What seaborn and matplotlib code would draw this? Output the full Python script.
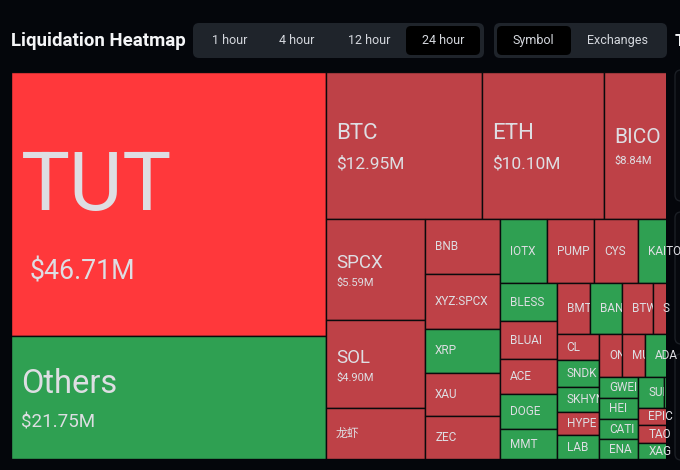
## liquidation heatmap, 24 hour view (treemap made of bars, values in $M) ##
import matplotlib
matplotlib.use('Agg')
import matplotlib.pyplot as plt
from matplotlib.patches import FancyBboxPatch
import seaborn as sns

tickers = ['TUT', 'Others', 'BTC', 'ETH', 'BICO', 'SPCX', 'SOL', '龙虾',
           'BNB', 'XYZ:SPCX', 'XRP', 'XAU', 'ZEC',
           'IOTX', 'PUMP', 'CYS', 'KAITO',
           'BLESS', 'BLUAI', 'ACE', 'DOGE', 'MMT',
           'BMT', 'BANANA', 'BTW', 'S',
           'CL', 'SNDK', 'SKHYNIX', 'HYPE', 'LAB',
           'ONDO', 'MU', 'ADA',
           'GWEI', 'HEI', 'CATI', 'ENA',
           'SUI', '', 'EPIC', 'TAO', 'XAG']
amounts = [46.71, 21.75, 12.95, 10.10, 8.84, 5.59, 4.90, 2.83,
           2.31, 2.31, 1.85, 1.81, 1.81,
           1.69, 1.69, 1.58, 2.61,
           1.20, 1.20, 1.11, 1.11, 0.95,
           0.96, 0.93, 0.87, 1.68,
           0.61, 0.66, 0.60, 0.55, 0.57,
           0.53, 0.54, 1.57,
           0.47, 0.46, 0.44, 0.43,
           0.46, 0.83, 0.69, 0.72, 0.65]
# g = green tile, r = red tile, R = the biggest one, brighter
sides = ['R', 'g', 'r', 'r', 'r', 'r', 'r', 'r',
         'r', 'r', 'g', 'r', 'r',
         'g', 'r', 'r', 'g',
         'g', 'r', 'r', 'g', 'g',
         'r', 'g', 'r', 'r',
         'r', 'g', 'g', 'r', 'g',
         'r', 'r', 'g',
         'g', 'g', 'g', 'g',
         'g', 'g', 'r', 'r', 'g']
time_labels = ['1 hour', '4 hour', '12 hour', '24 hour']
view_labels = ['Symbol', 'Exchanges']

value = dict(zip(tickers, amounts))
side = dict(zip(tickers, sides))

# how the tiles nest, h = split sideways, v = split downwards. built from the inside out
n = ('h', [('v', ['GWEI', 'HEI', 'CATI', 'ENA']),
           ('v', [('h', ['SUI', '']), 'EPIC', 'TAO', 'XAG'])])
n = ('v', [('h', ['ONDO', 'MU', 'ADA']), n])
n = ('h', [('v', ['CL', 'SNDK', 'SKHYNIX', 'HYPE', 'LAB']), n])
n = ('v', [('h', ['BMT', 'BANANA', 'BTW', 'S']), n])
n = ('h', [('v', ['BLESS', 'BLUAI', 'ACE', 'DOGE', 'MMT']), n])
n = ('v', [('h', ['IOTX', 'PUMP', 'CYS', 'KAITO']), n])
n = ('h', [('v', ['SPCX', 'SOL', '龙虾']), ('v', ['BNB', 'XYZ:SPCX', 'XRP', 'XAU', 'ZEC']), n])
n = ('v', [('h', ['BTC', 'ETH', 'BICO']), n])
nesting = ('h', [('v', ['TUT', 'Others']), n])


def total(node):
    if isinstance(node, str):
        return value[node]
    return sum(total(c) for c in node[1])


def slice_up(node, x, y, w, h, out):
    if isinstance(node, str):
        out.append((node, x, y, w, h))
        return
    s = total(node)
    for c in node[1]:
        part = total(c) / s
        if node[0] == 'h':
            slice_up(c, x, y, w * part, h, out)
            x += w * part
        else:
            slice_up(c, x, y, w, h * part, out)
            y += h * part


sns.set_theme(style='dark', rc={'axes.facecolor': '#04060b', 'figure.facecolor': '#04060b'})
plt.rcParams['font.family'] = ['Roboto', 'Noto Sans CJK SC', 'DejaVu Sans']

fig = plt.figure(figsize=(6.8, 4.7), dpi=100)

# header sits on a full size axes counted in pixels
head = fig.add_axes([0, 0, 1, 1])
head.set_xlim(0, 680)
head.set_ylim(470, 0)
head.axis('off')


def pill(x0, y0, x1, y1, color, edge='none', r=6):
    head.add_patch(FancyBboxPatch((x0 + r, y0 + r), x1 - x0 - 2 * r, y1 - y0 - 2 * r,
                                  boxstyle='round,pad=%d,rounding_size=%d' % (r, r),
                                  facecolor=color, edgecolor=edge, linewidth=1))


head.text(11, 41.5, 'Liquidation Heatmap', color='#f4f5f7', fontsize=13.4, fontweight='bold', va='center')
pill(193, 23, 484, 58, '#1f242b')
pill(406, 26, 480, 55, '#000000', r=5)
for lab, cx in zip(time_labels, [230, 297, 369, 443]):
    head.text(cx, 40.5, lab, color='#d5d8de', fontsize=9, ha='center', va='center')
pill(494, 23, 667, 58, '#1f242b')
pill(497, 26, 571, 55, '#000000', r=5)
for lab, cx in zip(view_labels, [533, 617]):
    head.text(cx, 40.5, lab, color='#d5d8de', fontsize=9, ha='center', va='center')
head.text(675, 41.5, 'T', color='#f4f5f7', fontsize=12.2, fontweight='bold', va='center', clip_on=True)
# side panels, mostly off the picture
for y0, y1 in [(70, 201), (212, 344), (354, 460)]:
    pill(675, y0, 700, y1, '#06080d', edge='#1b1f25')

# the treemap runs on past the right edge of the panel and gets cut off
ax = fig.add_axes([12 / 680, 1 - 459 / 470, 654 / 680, 387 / 470])
tiles = []
slice_up(nesting, 0, 0, 700, 388, tiles)

colors = {'R': '#ff383b', 'r': '#be4147', 'g': '#2fa052'}
text_color = '#dedee3'
# tile: size of name, size of amount, name offset, amount offset, amount x offset
big = {'TUT': (59, 19.3, -16, 68, 19), 'Others': (23.5, 13.5, -13, 25, 10),
       'BTC': (16, 12.5, -12, 18, 10), 'ETH': (16, 12.5, -12, 18, 10),
       'BICO': (15, 8, -8, 16, 10), 'SPCX': (13.5, 8, -7, 13, 10), 'SOL': (13.5, 8, -6, 14, 10)}

for name, x, y, w, h in tiles:
    bar = ax.bar(x, h, width=w, bottom=y, align='edge', color=colors[side[name]],
                 edgecolor='#0a0a0c', linewidth=1)[0]
    fs, vs, dy, vy, vx = big.get(name, (8.5, 0, 0, 0, 10))
    t = ax.text(x + 10, y + h / 2 + dy, name, color=text_color, fontsize=fs, va='center', clip_on=True)
    t.set_clip_path(bar)
    if name in big:
        v = ax.text(x + vx, y + h / 2 + vy, '$%.2fM' % value[name], color=text_color, fontsize=vs,
                    va='center', clip_on=True)
        v.set_clip_path(bar)

# start a little inside so the outer border line falls off
ax.set_xlim(1, 655)
ax.set_ylim(388, 0.5)
ax.set_xticks([])
ax.set_yticks([])
sns.despine(ax=ax, left=True, bottom=True)

plt.savefig('out.png', dpi=100)
